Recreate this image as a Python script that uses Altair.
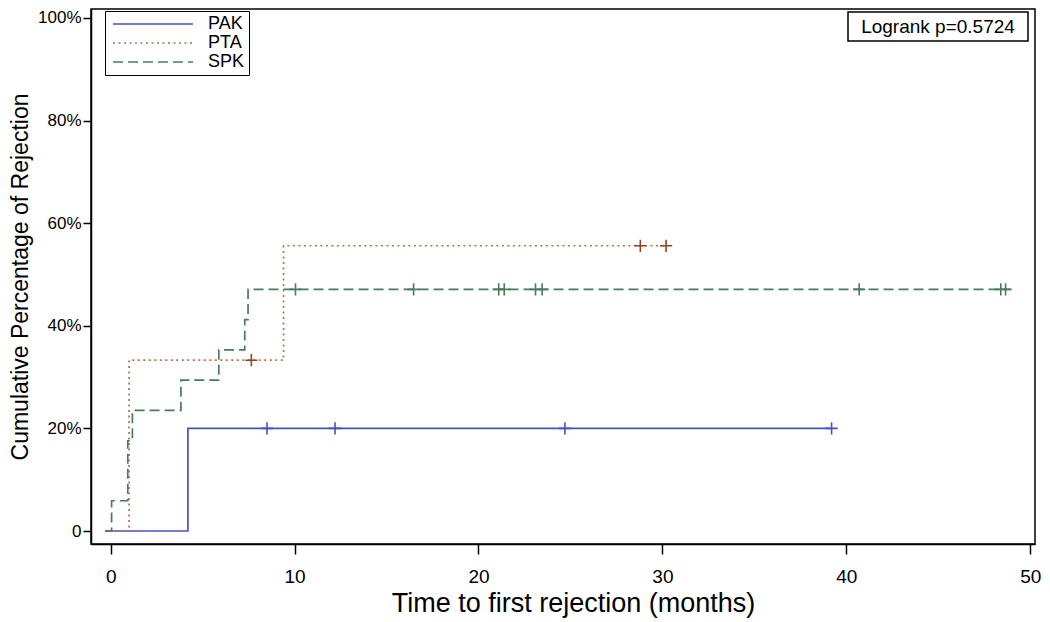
import altair as alt
import pandas as pd

groups = ["PAK", "PTA", "SPK"]
line_colors = ["#4652C2", "#B5714A", "#487C60"]
censor_colors = ["#4652C2", "#8E4622", "#487C60"]
dash_styles = [[1, 0], [2, 3.5], [10, 5]]

# step curves (time in months, cumulative % rejection)
pak_time = [-0.3, 4.2, 39.2]
pak_pct = [0, 20, 20]
pta_time = [-0.3, 1.0, 9.4, 30.2]
pta_pct = [0, 33.3, 55.6, 55.6]
spk_time = [-0.3, 0.05, 0.93, 1.18, 3.82, 5.88, 7.29, 7.47, 48.9]
spk_pct = [0, 5.9, 17.6, 23.5, 29.4, 35.3, 41.2, 47.1, 47.1]

# censored observations
pak_cens_time = [8.5, 12.2, 24.7, 39.2]
pak_cens_pct = [20, 20, 20, 20]
pta_cens_time = [7.65, 28.8, 30.2]
pta_cens_pct = [33.3, 55.6, 55.6]
spk_cens_time = [10.05, 16.47, 21.1, 21.4, 23.1, 23.46, 40.7, 48.4, 48.66]
spk_cens_pct = [47.1] * 9

x_ticks = [0, 10, 20, 30, 40, 50]
y_ticks = [0, 20, 40, 60, 80, 100]
logrank_text = ["Logrank p=0.5724"]

curves = pd.concat([
    pd.DataFrame({"Group": "PAK", "time": pak_time, "pct": pak_pct, "order": range(len(pak_time))}),
    pd.DataFrame({"Group": "PTA", "time": pta_time, "pct": pta_pct, "order": range(len(pta_time))}),
    pd.DataFrame({"Group": "SPK", "time": spk_time, "pct": spk_pct, "order": range(len(spk_time))}),
])
cens = pd.concat([
    pd.DataFrame({"Group": "PAK", "time": pak_cens_time, "pct": pak_cens_pct}),
    pd.DataFrame({"Group": "PTA", "time": pta_cens_time, "pct": pta_cens_pct}),
    pd.DataFrame({"Group": "SPK", "time": spk_cens_time, "pct": spk_cens_pct}),
])

FONT = "Liberation Sans"

xscale = alt.Scale(domain=[-1.07, 50.26], nice=False, zero=False)
yscale = alt.Scale(domain=[-2.53, 101.75], nice=False, zero=False)

xaxis = alt.Axis(values=x_ticks, title="Time to first rejection (months)", grid=False,
                 tickSize=10, tickColor="black", tickWidth=1.5, domainColor="black", domainWidth=1.5,
                 labelFontSize=19, labelPadding=13, labelFont=FONT, labelColor="black",
                 titleFont=FONT, titleFontSize=27, titleFontWeight="normal", titleColor="black",
                 titleX=482, titleAlign="center", titleY=59, titleBaseline="middle")
yaxis = alt.Axis(values=y_ticks, title="Cumulative Percentage of Rejection", grid=False,
                 labelExpr="datum.value == 0 ? '0' : datum.value + '%'",
                 tickSize=8, tickColor="black", tickWidth=1.5, domainColor="black", domainWidth=1.5,
                 labelFontSize=17, labelPadding=2, labelFont=FONT, labelColor="black",
                 titleFont=FONT, titleFontSize=23, titleFontWeight="normal", titleColor="black",
                 titleX=-71, titleBaseline="middle", titleAngle=270)

legend = alt.Legend(title=None, orient="none", legendX=14, legendY=2,
                    symbolType="M-8,0L8,0", symbolSize=100, symbolStrokeWidth=1.6,
                    symbolOffset=35, labelOffset=46, labelFontSize=18, labelFont=FONT,
                    labelColor="black", strokeColor="black", fillColor="white",
                    padding=4, rowPadding=1, labelLimit=0)

lines = alt.Chart(curves).mark_line(interpolate="step-after", strokeWidth=1.7).encode(
    x=alt.X("time:Q", scale=xscale, axis=xaxis),
    y=alt.Y("pct:Q", scale=yscale, axis=yaxis),
    color=alt.Color("Group:N", scale=alt.Scale(domain=groups, range=line_colors), legend=legend),
    strokeDash=alt.StrokeDash("Group:N", scale=alt.Scale(domain=groups, range=dash_styles), legend=legend),
    order="order:Q",
)

marks = alt.Chart(cens).mark_point(shape="M-1,0L1,0M0,-1L0,1", filled=False, size=150,
                                   strokeWidth=1.6, opacity=1).encode(
    x=alt.X("time:Q", scale=xscale),
    y=alt.Y("pct:Q", scale=yscale),
    stroke=alt.Stroke("Group:N", scale=alt.Scale(domain=groups, range=censor_colors), legend=None),
)

ann_df = pd.DataFrame({"label": logrank_text})
box = alt.Chart(ann_df).mark_rect(fill="white", stroke="black", strokeWidth=1.5).encode(
    x=alt.value(757), x2=alt.value(937), y=alt.value(3), y2=alt.value(32))
txt = alt.Chart(ann_df).mark_text(font=FONT, fontSize=19, color="black", align="center",
                                  baseline="middle").encode(
    x=alt.value(847), y=alt.value(18), text="label:N")

chart = alt.layer(lines, marks, box, txt).properties(
    width=944, height=535,
    autosize=alt.AutoSizeParams(type="none"),
    padding={"left": 83, "top": 1, "right": 7, "bottom": 74},
    background="white",
).configure_view(stroke="black", strokeWidth=1.5)

chart.save("out.html", embed_options={"renderer": "svg", "actions": False})
